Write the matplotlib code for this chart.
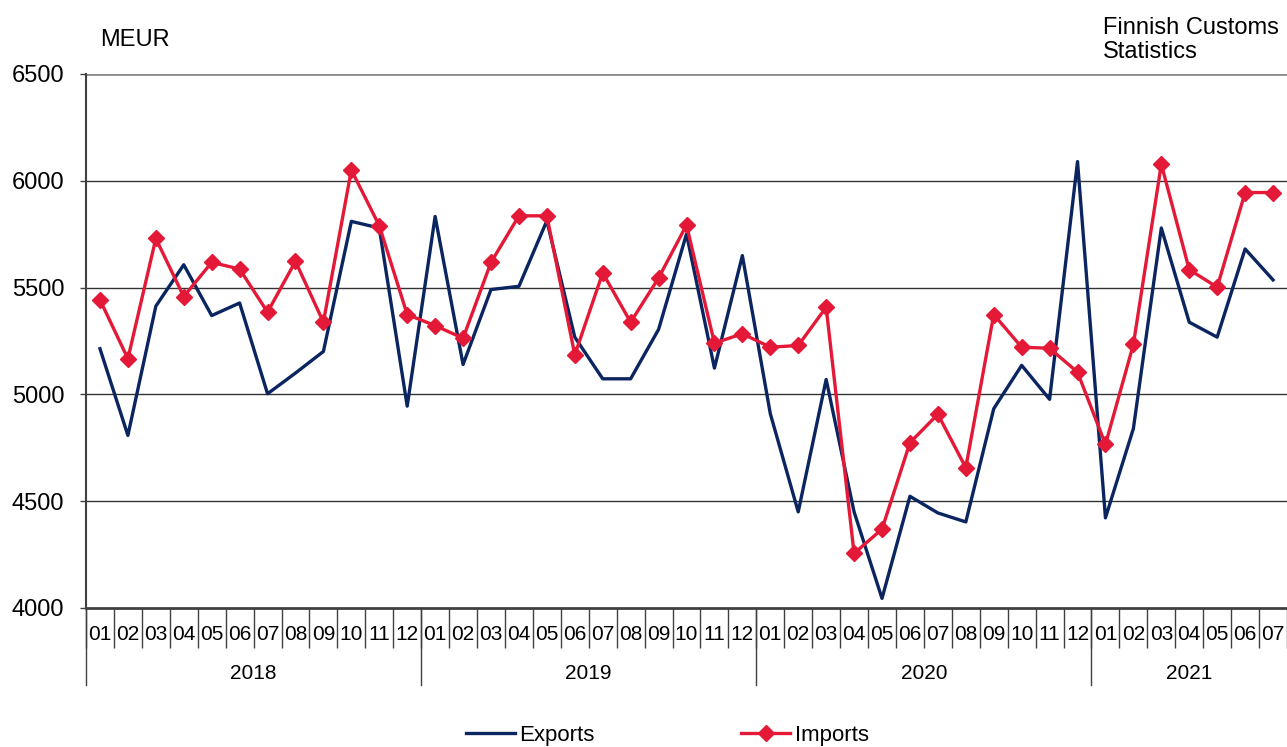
import matplotlib.pyplot as plt
import numpy as np

plt.rcParams['font.family'] = ['Liberation Sans', 'DejaVu Sans']

years = ['2018', '2019', '2020', '2021']
months = ['01', '02', '03', '04', '05', '06', '07', '08', '09', '10', '11', '12'] * 3 + \
         ['01', '02', '03', '04', '05', '06', '07']

exports = [5214, 4808, 5413, 5607, 5369, 5428, 5003, 5100, 5201, 5810, 5779, 4945,
           5833, 5140, 5491, 5506, 5813, 5268, 5073, 5073, 5304, 5751, 5123, 5650,
           4910, 4450, 5070, 4450, 4045, 4523, 4445, 4403, 4933, 5136, 4977, 6090,
           4422, 4840, 5779, 5338, 5268, 5681, 5536]
imports = [5443, 5167, 5730, 5458, 5618, 5587, 5385, 5623, 5338, 6051, 5790, 5374,
           5322, 5263, 5618, 5836, 5836, 5185, 5569, 5338, 5545, 5793, 5240, 5284,
           5221, 5229, 5408, 4256, 4369, 4774, 4907, 4657, 5374, 5221, 5216, 5104,
           4766, 5234, 6078, 5584, 5502, 5945, 5945]

navy = '#0b2560'
red = '#e31937'

fig = plt.figure(figsize=(12.87, 7.47), dpi=100)
ax = fig.add_axes([86 / 1287, 1 - 608 / 747, 1 - 86 / 1287, 534 / 747])

x = np.arange(len(months))
ax.plot(x, exports, color=navy, lw=2.4, label='Exports', zorder=3)
ax.plot(x, imports, color=red, lw=2.4, marker='D', ms=8, label='Imports', zorder=4)

ax.set_xlim(-0.5, len(months) - 0.5)
ax.set_ylim(4000, 6500)
ax.set_yticks([4000, 4500, 5000, 5500, 6000, 6500])
for v in [4500, 5000, 5500, 6000]:
    ax.axhline(v, color='#333333', lw=1, zorder=1)
ax.axhline(6500, color='#8c8c8c', lw=2, zorder=1)

for s in ['top', 'right']:
    ax.spines[s].set_visible(False)
ax.spines['left'].set_color('#404040')
ax.spines['left'].set_linewidth(1.5)
ax.spines['bottom'].set_color('#404040')
ax.spines['bottom'].set_linewidth(2)

ax.tick_params(axis='y', labelsize=17, length=4.5, width=1, color='#404040', pad=11)
ax.set_xticks(x)
ax.set_xticklabels(months)
ax.tick_params(axis='x', which='major', length=0, labelsize=15, pad=12)
ax.set_xticks(np.arange(len(months) + 1) - 0.5, minor=True)
ax.tick_params(axis='x', which='minor', length=29, width=1, color='#404040')

# year separators and labels
trans = ax.get_xaxis_transform()
starts = [0, 12, 24, 36, len(months)]
for i, yr in enumerate(years):
    a, b = starts[i], starts[i + 1]
    ax.plot([a - 0.5, a - 0.5], [0, -77 / 534], transform=trans, color='#404040', lw=1, clip_on=False)
    ax.annotate(yr, xy=((a + b - 1) / 2, 0), xycoords=trans, xytext=(0, -47.5),
                textcoords='offset points', ha='center', va='center', fontsize=15)

fig.text(100 / 1287, 1 - 40 / 747, 'MEUR', fontsize=17, va='center', ha='left')
fig.text(1103 / 1287, 1 - 40 / 747, 'Finnish Customs\nStatistics', fontsize=17,
         va='center', ha='left', linespacing=1.15)

ax.legend(loc='center', bbox_to_anchor=(0.484, -(735 - 608) / 534), ncol=2, frameon=False,
          fontsize=16, handlelength=2.2, handletextpad=0.2, columnspacing=6.6)

fig.savefig('out.png', dpi=100)
